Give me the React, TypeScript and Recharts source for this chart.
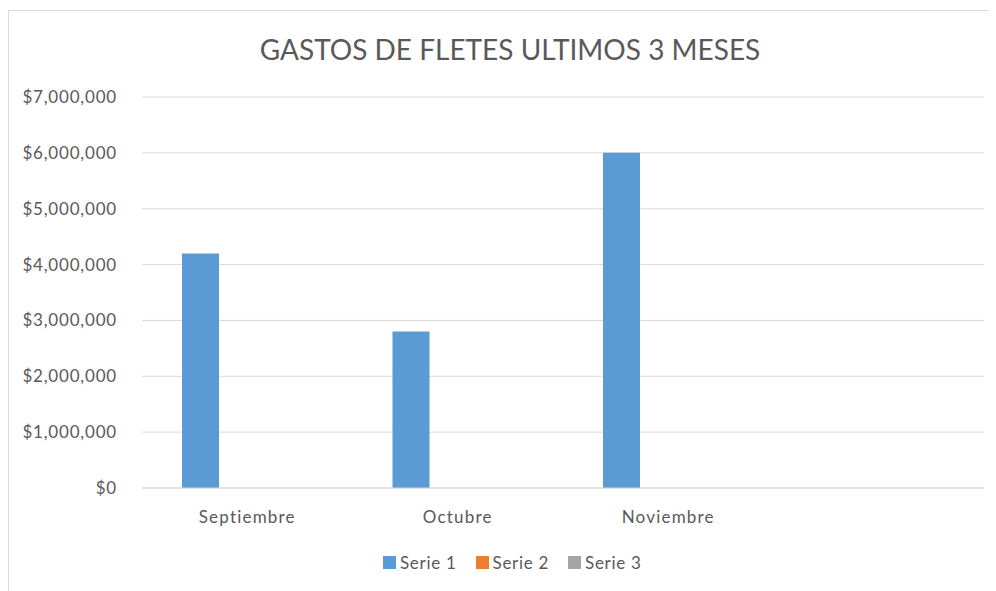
import { BarChart, Bar, XAxis, YAxis, CartesianGrid } from 'recharts';

const months = ['Septiembre', 'Octubre', 'Noviembre', ''];
const serie1 = [4200000, 2800000, 6000000, null];
const serie2 = [0, 0, 0, null];
const serie3 = [0, 0, 0, null];
const yTicks = [0, 1000000, 2000000, 3000000, 4000000, 5000000, 6000000, 7000000];

const seriesInfo = [
  { key: 'serie1', name: 'Serie 1', color: '#5b9bd5' },
  { key: 'serie2', name: 'Serie 2', color: '#ed7d31' },
  { key: 'serie3', name: 'Serie 3', color: '#a5a5a5' },
];

const data = months.map((m, i) => ({
  month: m,
  serie1: serie1[i],
  serie2: serie2[i],
  serie3: serie3[i],
}));

const font = 'Lato, "Open Sans", sans-serif';
const textColor = '#595959';

const formatMoney = (v: number) => '$' + v.toLocaleString('en-US');

function LegendBox() {
  return (
    <div
      style={{
        position: 'absolute',
        left: 375,
        top: 544,
        height: 20,
        display: 'flex',
        alignItems: 'center',
        fontFamily: font,
        fontSize: 17,
        letterSpacing: 0.7,
        color: textColor,
      }}
    >
      {seriesInfo.map((s, i) => (
        <div key={s.key} style={{ display: 'flex', alignItems: 'center', marginLeft: i === 0 ? 0 : 19 }}>
          <span style={{ width: 13, height: 13, background: s.color, display: 'inline-block', marginRight: 4 }} />
          <span>{s.name}</span>
        </div>
      ))}
    </div>
  );
}

export default function App() {
  return (
    <div style={{ position: 'relative', width: 988, height: 583, fontFamily: font }}>
      <div style={{ position: 'absolute', left: 0, top: 2, width: 1000, height: 600, borderLeft: '1px solid #d9d9d9', borderTop: '1px solid #d9d9d9' }} />
      <div
        style={{
          position: 'absolute',
          left: 0,
          top: 24,
          width: 1004,
          textAlign: 'center',
          fontSize: 28,
          color: textColor,
          fontFamily: font,
        }}
      >
        GASTOS DE FLETES ULTIMOS 3 MESES
      </div>
      <BarChart
        width={988}
        height={583}
        data={data}
        margin={{ top: 89, right: 12, bottom: 48, left: 0 }}
        barGap={10}
        barSize={37}
      >
        <CartesianGrid vertical={false} stroke="#d9d9d9" />
        <XAxis
          dataKey="month"
          axisLine={{ stroke: '#d9d9d9' }}
          tickLine={false}
          tickSize={0}
          tickMargin={23}
          height={55}
          tick={{ fill: textColor, fontSize: 17, fontFamily: font, letterSpacing: 1.2 }}
          interval={0}
        />
        <YAxis
          domain={[0, 7000000]}
          ticks={yTicks}
          tickFormatter={formatMoney}
          axisLine={false}
          tickLine={false}
          tickSize={0}
          tickMargin={25}
          width={134}
          tick={{ fill: textColor, fontSize: 17, fontFamily: font, letterSpacing: 0.8 }}
        />
        {seriesInfo.map((s) => (
          <Bar key={s.key} dataKey={s.key} name={s.name} fill={s.color} isAnimationActive={false} />
        ))}
      </BarChart>
      <LegendBox />
    </div>
  );
}
